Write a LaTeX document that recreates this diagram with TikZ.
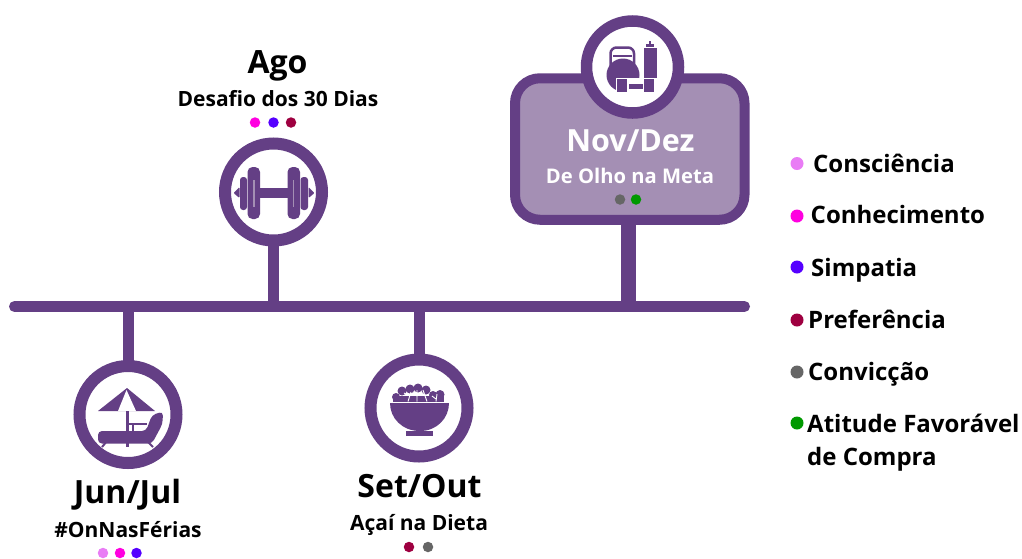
\documentclass[tikz,border=0pt]{standalone}
\usepackage{fontspec}
\setmainfont{Open Sans}
\usetikzlibrary{calc}
\definecolor{roxo}{HTML}{643F85}
\definecolor{lilas}{HTML}{A48FB4}
\definecolor{consc}{HTML}{E97CF5}
\definecolor{conhec}{HTML}{FF00E0}
\definecolor{simpat}{HTML}{5500FF}
\definecolor{prefer}{HTML}{9E0040}
\definecolor{convic}{HTML}{666666}
\definecolor{atitude}{HTML}{009900}
\tikzset{
	ring/.style={circle,draw=roxo,fill=white,line width=12pt,inner sep=0pt,outer sep=0pt,minimum size=97pt},
	placa/.style={draw=roxo,fill=lilas,line width=10pt,rounded corners=25pt,inner sep=0pt,outer sep=0pt,minimum width=229.5pt,minimum height=141.5pt},
	haste/.style={draw=roxo,line width=11pt},
	eixo/.style={draw=roxo,line width=11pt,line cap=round},
	dot/.style={circle,inner sep=0pt,outer sep=0pt,minimum size=10.5pt},
	legdot/.style={dot,minimum size=13pt},
	mes/.style={anchor=base,inner sep=0pt,font=\fontsize{32}{32}\selectfont\bfseries},
	tema/.style={anchor=base,inner sep=0pt,font=\fontsize{21}{21}\selectfont\bfseries},
	leg/.style={anchor=base west,inner sep=0pt,font=\fontsize{24}{24}\selectfont\bfseries},
}
\begin{document}
\begin{tikzpicture}[x=1pt,y=-1pt]
	\useasboundingbox (0,0) rectangle (1022,558);
	% eixo
	\coordinate (ini) at (14.5,306.5);
	\coordinate (fim) at (744.5,306.5);
	\coordinate (eJun) at (128,306.5);
	\coordinate (eAgo) at (273.5,306.5);
	\coordinate (eSet) at (419,306.5);
	\coordinate (eNov) at (628,306.5);
	\node[placa] (nov) at (629.75,149) {};
	\node[ring,minimum size=92pt,line width=11.5pt] (novIc) at (632.5,67) {};
	\node[ring] (jun) at (128,414.5) {};
	\node[ring] (ago) at (273.5,192) {};
	\node[ring] (set) at (419,408) {};
	\draw[eixo] (ini) -- (fim);
	\draw[haste] (eJun) -- (jun);
	\draw[haste] (eAgo) -- (ago);
	\draw[haste] (eSet) -- (set);
	\draw[haste,line width=15pt] (eNov) -- (eNov |- nov.south);
	% halter
	\begin{scope}[roxo]
		\fill (260,188) rectangle (288,198);
		\fill[rounded corners=5pt] (247.5,167) rectangle (260,219);
		\fill[rounded corners=5pt] (287.5,167) rectangle (300,219);
		\fill[rounded corners=3pt] (240,177) rectangle (247,210);
		\fill[rounded corners=3pt] (300.5,177) rectangle (308,210);
		\fill[rounded corners=1pt] (239.5,187) -- (233.5,193) -- (239.5,198) -- cycle;
		\fill[rounded corners=1pt] (308.5,187) -- (314.5,193) -- (308.5,198) -- cycle;
		\fill[lilas] (253.4,180) rectangle (254.6,207);
		\fill[lilas] (293.2,180) rectangle (294.4,207);
	\end{scope}
	% guarda-sol
	\begin{scope}[roxo]
		\fill (98,411) -- (127,388) -- (155,411) -- cycle;
		\fill[white] (118,411) -- (126.5,390) -- (136,411) -- cycle;
		\fill (126,411) rectangle (128.5,447);
		\fill[rounded corners=4pt] (98,443.5) -- (98,431) -- (146,431) -- (152,415) -- (163,411.5) -- (162.5,424) -- (152,443.5) -- cycle;
		\fill (127,423) rectangle (147,425);
		\fill (132,423) rectangle (134,431);
		\draw[line width=2pt] (107,441) -- (102,447);
		\draw[line width=2pt] (147,441) -- (153,447);
	\end{scope}
	% tigela
	\begin{scope}[roxo]
		\fill (390,403) -- (449,403) .. controls (449,418) and (437,431) .. (420,431) .. controls (402,431) and (390,418) .. (390,403) -- cycle;
		\fill (406,431) rectangle (433,436);
		\fill (392.5,396) rectangle (444,401.5);
		\fill (396,397) circle (4);
		\fill (402,391) circle (4.5);
		\fill (410,389) circle (4.5);
		\fill (418,388) circle (4.5);
		\fill (426,390) circle (4.5);
		\fill (433,395) circle (4);
		\fill (440,394.5) circle (4.5);
		\draw[white,line width=0.9pt] (408,401.5) -- (411,392) (404,393) -- (410,396) (417,401.5) -- (417,390) (414,393) -- (417,396) (420,393) -- (417,396) (427,401.5) -- (423,390) (436,401.5) -- (437,394) (432,396) -- (436,399);
	\end{scope}
	% kettlebell
	\begin{scope}[roxo]
		\draw[line width=2.5pt,rounded corners=6pt] (610.5,70) -- (610.5,47.5) -- (634,47.5) -- (634,70);
		\draw[line width=1.5pt] (613,56) -- (632,56);
		\fill (623,75) circle (16.5);
		\fill (643.5,48) rectangle (657,78);
		\fill (646,44) rectangle (654,47);
		\fill (649,41) rectangle (651,44);
		\fill[white] (615.5,77.5) rectangle (658,93.5);
		\fill (617,79) rectangle (627,92);
		\fill (629,84) rectangle (643,89);
		\fill (644,79) rectangle (654,92);
	\end{scope}
	% textos
	\node[mes] (tJun) at (127.5,503.5) {Jun/Jul};
	\node[tema] (sJun) at (128,537) {\#OnNasFérias};
	\node[mes] (tAgo) at (277.5,73) {Ago};
	\node[tema] (sAgo) at (278,106) {Desafio dos 30 Dias};
	\node[mes] (tSet) at (419.5,497) {Set/Out};
	\node[tema] (sSet) at (419,530.5) {Açaí na Dieta};
	\node[mes,font=\fontsize{30.5}{30.5}\selectfont\bfseries,text=white] (tNov) at (630.5,151) {Nov/Dez};
	\node[tema,font=\fontsize{20.2}{20.2}\selectfont\bfseries,text=white] (sNov) at (630,183.5) {De Olho na Meta};
	% pontos
	\node[dot,fill=consc] (j1) at (103,553) {};
	\node[dot,fill=conhec] (j2) at (120,553) {};
	\node[dot,fill=simpat] (j3) at (136.5,553) {};
	\node[dot,fill=conhec] (a1) at (255,122.5) {};
	\node[dot,fill=simpat] (a2) at (273.5,122.5) {};
	\node[dot,fill=prefer] (a3) at (291,122.5) {};
	\node[dot,fill=prefer] (s1) at (409,547) {};
	\node[dot,fill=convic] (s2) at (428,547) {};
	\node[dot,fill=convic] (n1) at (620,199.5) {};
	\node[dot,fill=atitude] (n2) at (636,199.5) {};
	% legenda
	\node[legdot,fill=consc] (l1) at (797,163.5) {};
	\node[legdot,fill=conhec] (l2) at (797,216) {};
	\node[legdot,fill=simpat] (l3) at (797,267) {};
	\node[legdot,fill=prefer] (l4) at (797,320) {};
	\node[legdot,fill=convic] (l5) at (797,372) {};
	\node[legdot,fill=atitude] (l6) at (797,423) {};
	\node[leg] (t1) at (813,172) {Consciência};
	\node[leg] (t2) at (810.5,223.5) {Conhecimento};
	\node[leg] (t3) at (811,276) {Simpatia};
	\node[leg] (t4) at (808,328) {Preferência};
	\node[leg] (t5) at (808,380) {Convicção};
	\node[leg] (t6) at (807,432) {Atitude Favorável};
	\node[leg] (t7) at (807,465) {de Compra};
\end{tikzpicture}
\end{document}
